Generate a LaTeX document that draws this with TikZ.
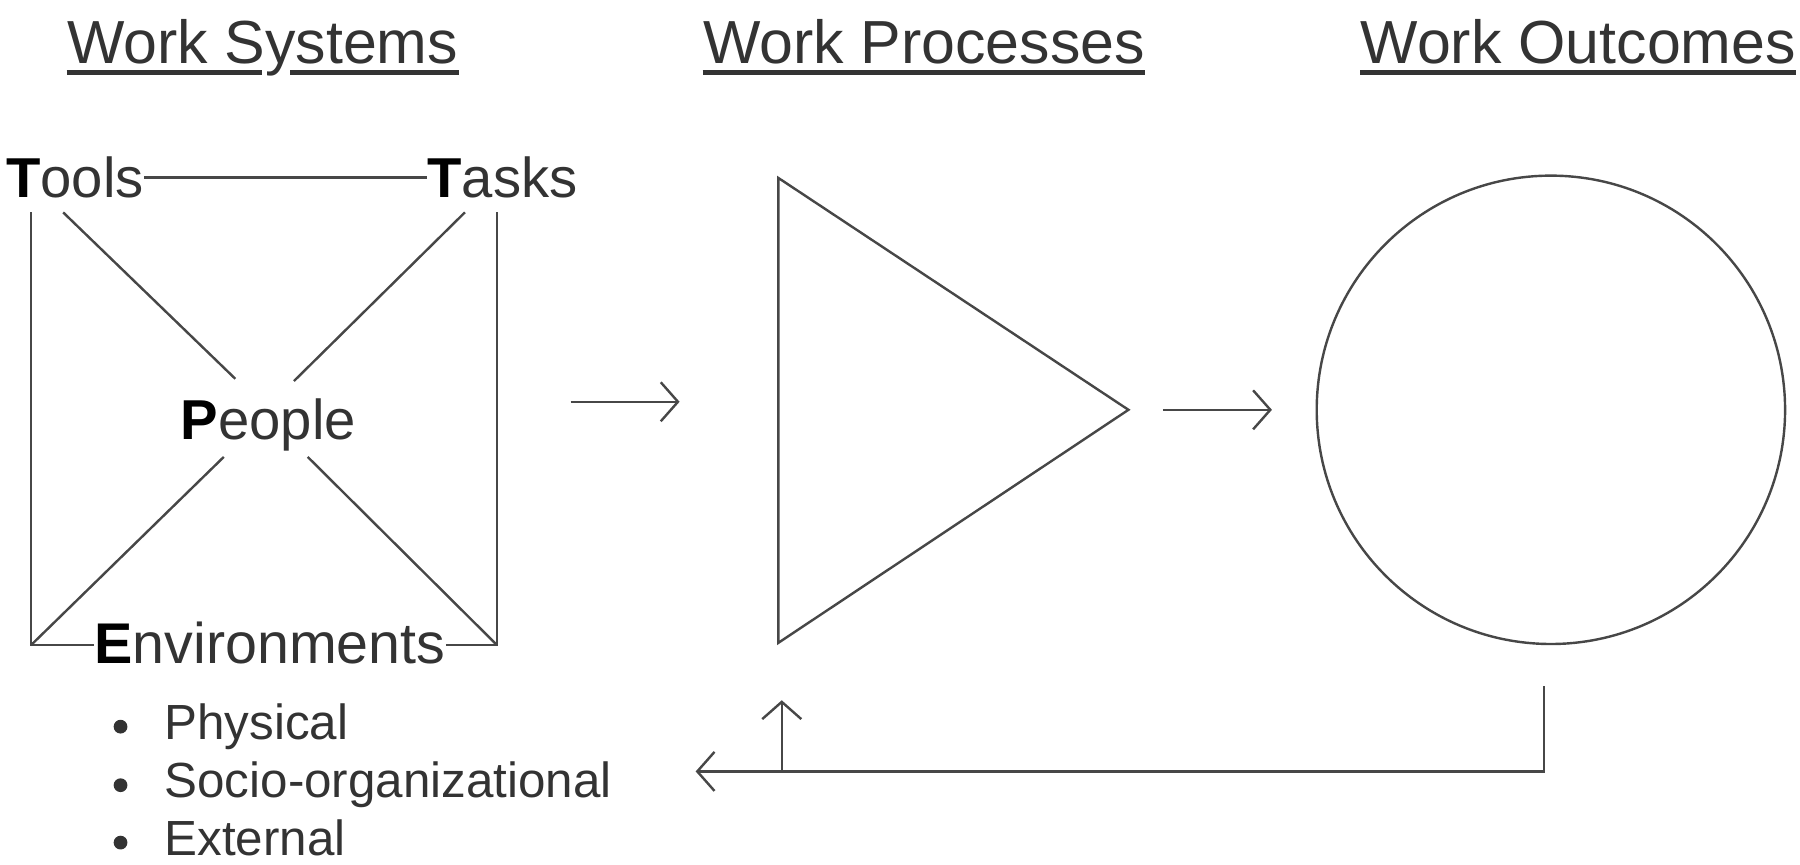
\documentclass[tikz,border=0pt]{standalone}
\usepackage{fontspec}
\setmainfont{Liberation Sans}
\usetikzlibrary{arrows.meta}
\definecolor{ink}{HTML}{333333}
\definecolor{linec}{HTML}{474747}
\begin{document}
\begin{tikzpicture}[x=0.5pt,y=-0.5pt,
  head/.style={font=\fontsize{26.5}{30}\selectfont, text=ink, inner sep=0, anchor=base west},
  lbl/.style={font=\fontsize{24.5}{28}\selectfont, text=ink, inner sep=0, anchor=base west},
  item/.style={font=\fontsize{21.5}{24}\selectfont, text=ink, inner sep=0, anchor=base west},
  thinline/.style={draw=linec, line width=1.05pt},
  uline/.style={draw=ink, line width=2pt},
  arr/.style={thinline, -{Straight Barb[length=7.5pt,width=17pt]}},
  dot/.style={circle, fill=ink, inner sep=0, minimum size=6pt}]
\useasboundingbox (0,0) rectangle (1568,753);
% headings
\node[head] (h1) at (58,55) {Work Systems};
\node[head] (h2) at (612,55) {Work Processes};
\node[head] (h3) at (1185,55) {Work Outcomes};
\draw[uline] (58,63) -- (228,63);
\draw[uline] (253,63) -- (h1.base east |- 0,63);
\draw[uline] (h2.base west |- 0,63) -- (h2.base east |- 0,63);
\draw[uline] (h3.base west |- 0,63) -- (h3.base east |- 0,63);
% work system nodes
\node[lbl] (tools) at (5,172) {{\color{black}\textbf{T}}ools};
\node[lbl] (tasks) at (372,172) {{\color{black}\textbf{T}}asks};
\node[lbl] (people) at (157,383) {{\color{black}\textbf{P}}eople};
\node[lbl, font=\fontsize{25}{28}\selectfont] (env) at (82,578) {{\color{black}\textbf{E}}nvironments};
\coordinate (tl) at (27,185);
\coordinate (tr) at (433,185);
\coordinate (bl) at (27,562);
\coordinate (br) at (433,562);
\coordinate (d1a) at (55,185);
\coordinate (d1b) at (205,330);
\coordinate (d2a) at (405,185);
\coordinate (d2b) at (256,332);
\coordinate (d3a) at (195,398);
\coordinate (d4a) at (268,398);
\draw[thinline] (tools.east) -- (tasks.west);
\draw[thinline] (tl) -- (bl) -- (env.west |- bl);
\draw[thinline] (env.east |- br) -- (br) -- (tr);
\draw[thinline] (d1a) -- (d1b);
\draw[thinline] (d2a) -- (d2b);
\draw[thinline] (d3a) -- (bl);
\draw[thinline] (d4a) -- (br);
% bullets
\node[dot] (b1) at (105,633) {};
\node[dot] (b2) at (105,684) {};
\node[dot] (b3) at (105,734) {};
\node[item] (i1) at (143,644) {Physical};
\node[item] (i2) at (143,695) {Socio-organizational};
\node[item] (i3) at (143,745) {External};
% process triangle
\coordinate (ta) at (678,155);
\coordinate (tb) at (678,560);
\coordinate (tc) at (983,357);
\draw[thinline, line join=miter] (ta) -- (tc) -- (tb) -- cycle;
% outcome circle
\node[thinline, circle, minimum size=204pt, inner sep=0] (oc) at (1351,357) {};
% arrows
\coordinate (a1s) at (497,350);
\coordinate (a1e) at (592,350);
\coordinate (a2s) at (1013,357);
\coordinate (a2e) at (1108,357);
\draw[arr] (a1s) -- (a1e);
\draw[arr] (a2s) -- (a2e);
\coordinate (fb1) at (1345,598);
\coordinate (fb2) at (1345,672);
\coordinate (fb3) at (606,672);
\coordinate (up1) at (681,672);
\coordinate (up2) at (681,610);
\draw[arr] (fb1) -- (fb2) -- (fb3);
\draw[arr] (up1) -- (up2);
\end{tikzpicture}
\end{document}
